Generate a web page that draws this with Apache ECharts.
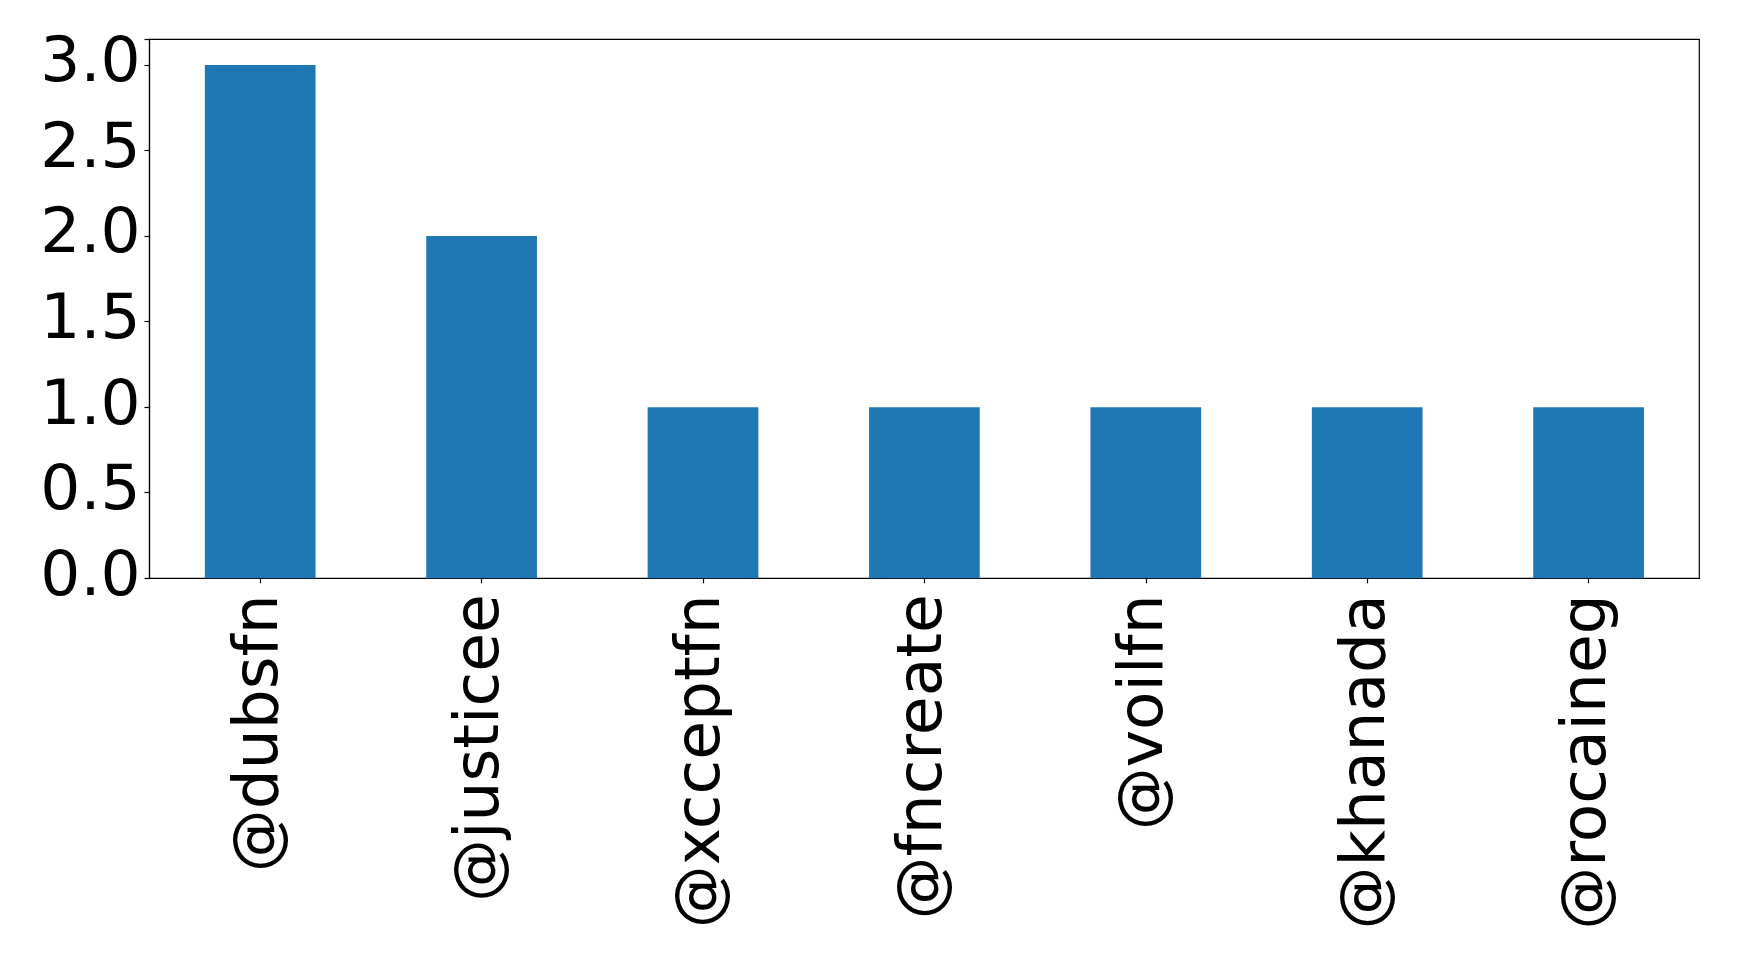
<!DOCTYPE html>
<html>
<head>
<meta charset="utf-8">
<script src="https://cdn.jsdelivr.net/npm/echarts@6/dist/echarts.min.js"></script>
<style>html,body{margin:0;padding:0;background:#fff}#c{width:1739px;height:961px}</style>
</head>
<body>
<div id="c"></div>
<script>
const categories = ['@dubsfn', '@justicee', '@xcceptfn', '@fncreate', '@voilfn', '@khanada', '@rocaineg'];
const counts = [3, 2, 1, 1, 1, 1, 1];
const yTicks = [0, 0.5, 1.0, 1.5, 2.0, 2.5, 3.0];

const chart = echarts.init(document.getElementById('c'), null, {renderer: 'canvas'});
const font = 'DejaVu Sans';
chart.setOption({
  animation: false,
  backgroundColor: '#fff',
  grid: {left: 149.5, right: 39.7, top: 39.3, bottom: 382.7, show: true, borderColor: '#000', borderWidth: 1.2, backgroundColor: 'transparent'},
  xAxis: {
    type: 'category',
    data: categories,
    boundaryGap: true,
    axisLine: {show: true, lineStyle: {color: '#000', width: 1.2}},
    axisTick: {show: true, alignWithLabel: true, length: 5, lineStyle: {color: '#000', width: 1.2}},
    axisLabel: {rotate: 90, margin: 16, color: '#000', fontFamily: font, fontSize: 63, interval: 0, padding: [5, 0, 0, 0]},
    splitLine: {show: false}
  },
  yAxis: {
    type: 'value',
    min: 0,
    max: 3.15,
    interval: 0.5,
    axisLine: {show: true, lineStyle: {color: '#000', width: 1.2}},
    axisTick: {show: true, length: 5, lineStyle: {color: '#000', width: 1.2}},
    axisLabel: {
      margin: 9, color: '#000', fontFamily: font, fontSize: 63, padding: [6, 0, 0, 0],
      formatter: v => yTicks.some(t => Math.abs(t - v) < 1e-9) ? v.toFixed(1) : ''
    },
    splitLine: {show: false}
  },
  series: [{
    type: 'bar',
    data: counts,
    barWidth: '50%',
    itemStyle: {color: '#1f77b4'}
  }]
});
</script>
</body>
</html>
